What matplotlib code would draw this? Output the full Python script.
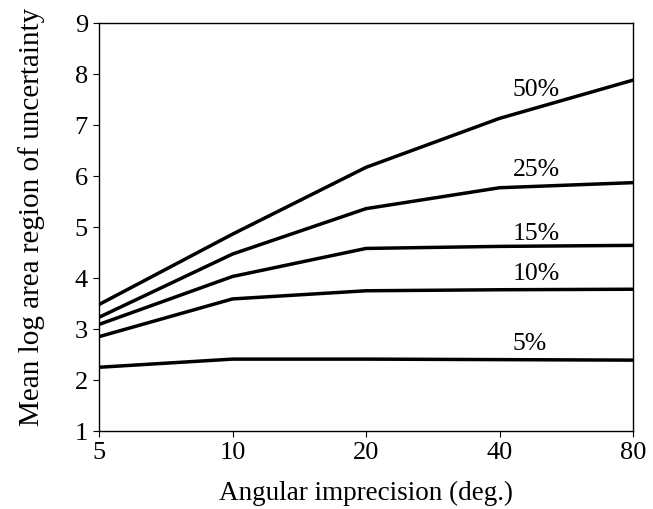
import matplotlib
matplotlib.use("Agg")
import matplotlib.pyplot as plt
from matplotlib.ticker import FixedLocator, NullLocator

plt.rcParams['font.family'] = ['Liberation Serif', 'DejaVu Serif']

# angular imprecision (deg.)
angles = [5, 10, 20, 40, 80]

# mean log area region of uncertainty, one series per error level
err_50 = [3.48, 4.86, 6.17, 7.13, 7.88]
err_25 = [3.23, 4.47, 5.36, 5.77, 5.87]
err_15 = [3.09, 4.03, 4.58, 4.62, 4.64]
err_10 = [2.85, 3.59, 3.75, 3.77, 3.78]
err_5 = [2.25, 2.41, 2.41, 2.40, 2.39]

series = [("50%", err_50, 7.69), ("25%", err_25, 6.12), ("15%", err_15, 4.86),
          ("10%", err_10, 4.08), ("5%", err_5, 2.71)]

fig = plt.figure(figsize=(6.53, 5.09), dpi=100)
ax = fig.add_axes([0.1516, 0.1532, 0.8178, 0.8016])

for name, vals, ylab in series:
    ax.plot(angles, vals, color="black", lw=2.5, solid_joinstyle="miter")
    ax.text(42.9, ylab, name, fontsize=18.5, ha="left", va="center")

ax.set_xscale("log", base=2)
ax.set_xlim(5, 80)
ax.set_ylim(1, 9)
ax.xaxis.set_major_locator(FixedLocator(angles))
ax.xaxis.set_minor_locator(NullLocator())
ax.set_xticklabels([str(a) for a in angles])
ax.set_yticks(range(1, 10))

ax.tick_params(direction="out", length=4, width=0.8, labelsize=19, pad=4)
for s in ax.spines.values():
    s.set_linewidth(1.0)

ax.set_xlabel("Angular imprecision (deg.)", fontsize=19.5, labelpad=12)
ax.set_ylabel("Mean log area region of uncertainty", fontsize=21)
ax.yaxis.set_label_coords(-0.101, 0.525)

fig.savefig("out.png", dpi=100)
